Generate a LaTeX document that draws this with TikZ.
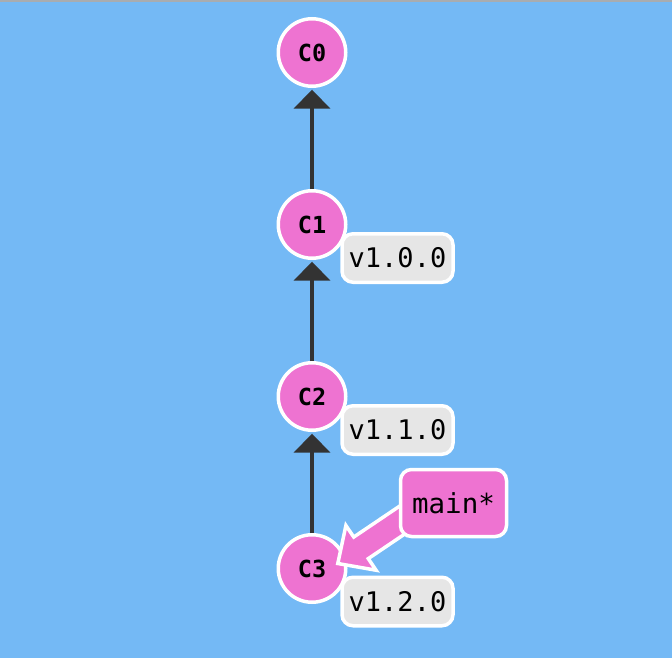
\documentclass[tikz,border=0pt]{standalone}
\usepackage{fontspec}
\usetikzlibrary{arrows.meta,calc}
\newfontfamily\monof{DejaVu Sans Mono}
\definecolor{bgblue}{RGB}{116,185,245}
\definecolor{topgray}{RGB}{168,172,176}
\definecolor{cpink}{RGB}{238,115,209}
\definecolor{taggray}{RGB}{230,230,230}
\definecolor{edgedark}{RGB}{51,51,51}
\tikzset{
  commit/.style={circle, minimum size=67.5pt, inner sep=0pt, fill=cpink, draw=white, line width=3.5pt,
    font=\monof\bfseries\fontsize{23.5}{24}\selectfont},
  tagbox/.style={rectangle, rounded corners=11pt, minimum width=111pt, minimum height=48.5pt, inner sep=0pt,
    fill=taggray, draw=white, line width=3.5pt, font=\monof\fontsize{27}{28}\selectfont},
  branchbox/.style={rectangle, rounded corners=11pt, minimum width=106pt, minimum height=67pt, inner sep=0pt,
    fill=cpink, draw=white, line width=3.5pt, font=\monof\fontsize{27.5}{28}\selectfont},
  parentedge/.style={draw=edgedark, line width=4pt, shorten >=1.7pt,
    -{Triangle[width=36pt,length=19pt]}},
  branchptr/.style={fill=cpink, draw=white, line width=3.5pt, line join=miter, miter limit=20}
}
\begin{document}
\begin{tikzpicture}[x=1pt,y=-1pt]
\path[use as bounding box] (0,0) rectangle (672,658);
\fill[bgblue] (0,0) rectangle (672,658);
\fill[topgray] (0,0) rectangle (672,2);

\node[commit] (c0) at (312,52.5) {C0};
\node[commit] (c1) at (312,224.5) {C1};
\node[commit] (c2) at (312,396.5) {C2};
\node[commit] (c3) at (312,568.5) {C3};

\draw[parentedge] (c1) -- (c0);
\draw[parentedge] (c2) -- (c1);
\draw[parentedge] (c3) -- (c2);

% branch pointer arrow from main* to C3
\coordinate (ptip) at (337.8,563.5);
\coordinate (ptail) at (429.1,501.9);
\coordinate (hb) at ($(ptip)!28pt!(ptail)$);
\filldraw[branchptr] (ptip)
  -- ($(hb)!27pt!90:(ptail)$)
  -- ($(hb)!13pt!90:(ptail)$)
  -- ($(ptail)!13pt!-90:(hb)$)
  -- ($(ptail)!13pt!90:(hb)$)
  -- ($(hb)!13pt!-90:(ptail)$)
  -- ($(hb)!27pt!-90:(ptail)$)
  -- cycle;

\node[tagbox] (t1) at (397.5,258) {v1.0.0};
\node[tagbox] (t2) at (397.5,430) {v1.1.0};
\node[tagbox] (t3) at (397.5,601.5) {v1.2.0};

\node[branchbox] (main) at (453.5,503) {main*};
\end{tikzpicture}
\end{document}
